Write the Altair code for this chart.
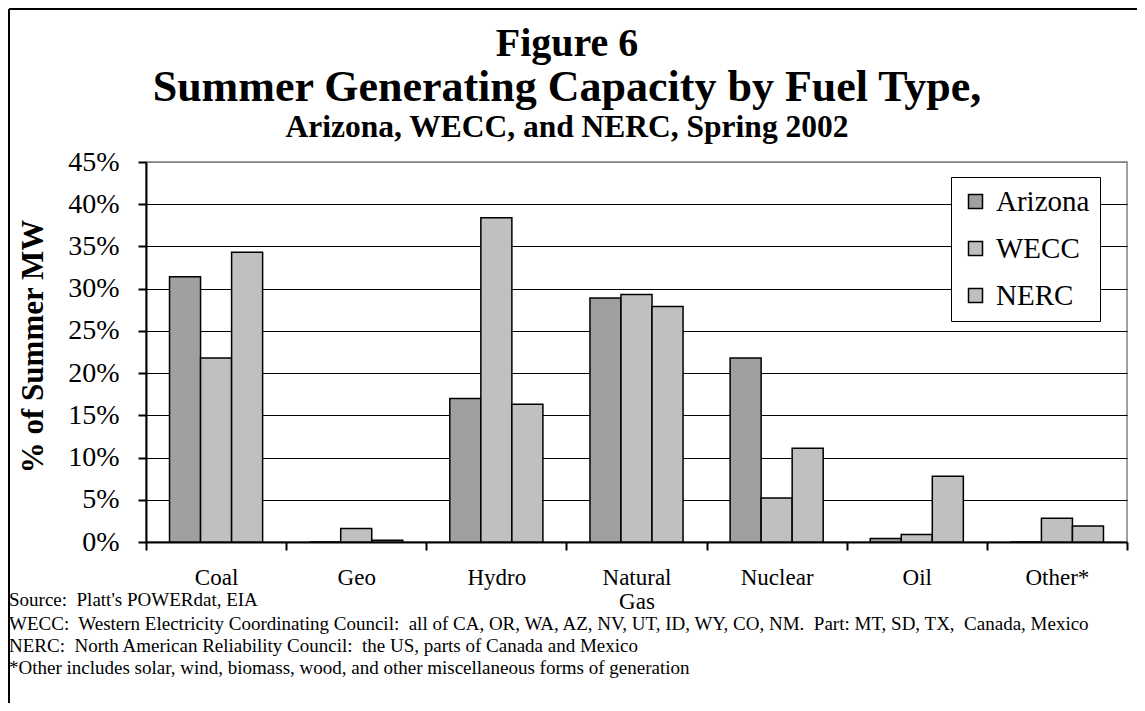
import altair as alt
import pandas as pd

# ---- data ----
fuels = ["Coal", "Geo", "Hydro", "Natural Gas", "Nuclear", "Oil", "Other*"]
regions = ["Arizona", "WECC", "NERC"]
arizona = [31.4, 0.0, 17.0, 28.9, 21.8, 0.4, 0.0]
wecc = [21.8, 1.6, 38.4, 29.3, 5.2, 0.9, 2.8]
nerc = [34.3, 0.2, 16.3, 27.9, 11.1, 7.8, 1.9]
y_ticks = [0, 5, 10, 15, 20, 25, 30, 35, 40, 45]
region_colors = ["#A0A0A0", "#C0C0C0", "#C0C0C0"]

NB = "\u00a0"
title_line1 = ["Figure 6"]
title_line2 = ["Summer Generating Capacity by Fuel Type,"]
title_line3 = ["Arizona, WECC, and NERC, Spring 2002"]
notes = [
    "Source:" + NB + " Platt's POWERdat, EIA",
    "WECC:" + NB + " Western Electricity Coordinating Council:" + NB + " all of CA, OR, WA, AZ, NV, UT, ID, WY, CO, NM." + NB + " Part: MT, SD, TX," + NB + " Canada, Mexico",
    "NERC:" + NB + " North American Reliability Council:" + NB + " the US, parts of Canada and Mexico",
    "*Other includes solar, wind, biomass, wood, and other miscellaneous forms of generation",
]

FONT = "Liberation Serif"

rows = []
for i, f in enumerate(fuels):
    for r, vals in zip(regions, [arizona, wecc, nerc]):
        rows.append({"fuel": f, "region": r, "share": vals[i]})
df = pd.DataFrame(rows)

W, H = 981, 380

bars = alt.Chart(df).mark_bar(stroke="black", strokeWidth=1.5).encode(
    x=alt.X(
        "fuel:N",
        sort=fuels,
        scale=alt.Scale(paddingInner=0, paddingOuter=0),
        axis=alt.Axis(
            title=None,
            labelAngle=0,
            labelFont=FONT,
            labelFontSize=23,
            labelColor="black",
            labelPadding=16,
            labelLineHeight=24,
            labelExpr="split(datum.label, ' ')",
            tickBand="extent",
            tickSize=8,
            tickColor="black",
            tickWidth=2,
            domainColor="black",
            domainWidth=2,
            grid=False,
        ),
    ),
    xOffset=alt.XOffset(
        "region:N",
        sort=regions,
        scale=alt.Scale(paddingInner=0, paddingOuter=0.758),
    ),
    y=alt.Y(
        "share:Q",
        scale=alt.Scale(domain=[0, 45], nice=False),
        axis=alt.Axis(
            title="% of Summer MW",
            titleFont=FONT,
            titleFontSize=31,
            titleFontWeight="bold",
            titleColor="black",
            titleX=-113,
            titleY=184,
            titleBaseline="middle",
            titleAlign="center",
            values=y_ticks,
            labelExpr="datum.value + '%'",
            labelFont=FONT,
            labelFontSize=28,
            labelColor="black",
            labelPadding=19,
            tickSize=8,
            tickColor="black",
            tickWidth=2,
            domainColor="black",
            domainWidth=2,
            grid=True,
            gridColor=alt.condition("datum.value >= 45", alt.value("#808080"), alt.value("black")),
            gridWidth=1,
            gridOpacity=1,
        ),
    ),
    fill=alt.Fill(
        "region:N",
        sort=regions,
        scale=alt.Scale(domain=regions, range=region_colors),
        legend=alt.Legend(
            title=None,
            orient="none",
            legendX=805,
            legendY=15,
            symbolType="square",
            symbolSize=196,
            symbolStrokeColor="black",
            symbolStrokeWidth=1.5,
            labelFont=FONT,
            labelFontSize=29,
            labelColor="black",
            labelOffset=6,
            rowPadding=17,
            padding=10,
            strokeColor="black",
            fillColor="white",
        ),
    ),
)

def text_layer(lines, x, ys, size, weight, align):
    layers = []
    for line, yy in zip(lines, ys):
        layers.append(
            alt.Chart(pd.DataFrame({"t": [line]})).mark_text(
                font=FONT, fontSize=size, fontWeight=weight, align=align,
                baseline="middle", color="black"
            ).encode(text="t:N", x=alt.value(x), y=alt.value(yy))
        )
    return layers

t1 = text_layer(title_line1, 421, [-118], 40, "bold", "center")
t2 = text_layer(title_line2, 421, [-74], 44, "bold", "center")
t3 = text_layer(title_line3, 421, [-34], 31.5, "bold", "center")
foot = text_layer(notes, -137, [438, 462, 484, 506], 19, "normal", "left")

frame_df = pd.DataFrame({"a": [0]})
frame_left = alt.Chart(frame_df).mark_rule(color="black", strokeWidth=2).encode(
    x=alt.value(-137), y=alt.value(-153), y2=alt.value(560)
)
frame_top = alt.Chart(frame_df).mark_rule(color="black", strokeWidth=2).encode(
    x=alt.value(-137), x2=alt.value(1000), y=alt.value(-153)
)

chart = alt.layer(
    bars, *t1, *t2, *t3, *foot, frame_left, frame_top
).properties(
    width=W,
    height=H,
    autosize=alt.AutoSizeParams(type="none"),
    padding={"left": 138, "top": 154, "right": 10, "bottom": 161},
    background="white",
).configure_view(
    stroke="#808080", strokeWidth=1.5, fill="white"
)

chart.save("out.html", embed_options={"renderer": "svg", "actions": False})
